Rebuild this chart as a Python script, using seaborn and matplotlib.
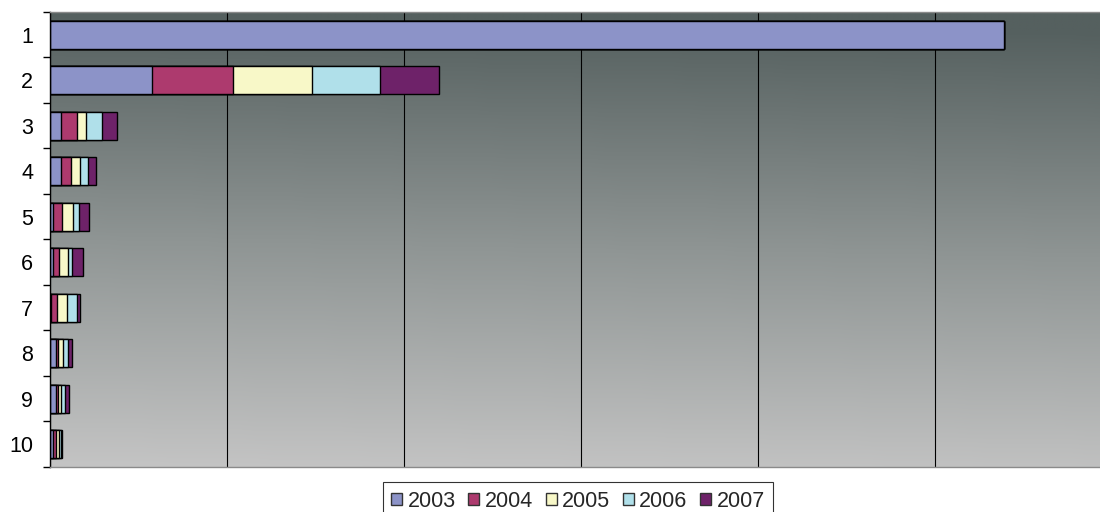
import numpy as np
import pandas as pd
import matplotlib
matplotlib.use("Agg")
import matplotlib.pyplot as plt
from matplotlib.colors import LinearSegmentedColormap
from matplotlib.patches import Patch
import seaborn as sns

# Data: ten ranked items, yearly amounts stacked horizontally
categories = ["1", "2", "3", "4", "5", "6", "7", "8", "9", "10"]
years = ["2003", "2004", "2005", "2006", "2007"]
v2003 = [539.0, 57.5, 6.0, 6.0, 1.9, 1.9, 0.5, 3.4, 3.2, 1.9]
v2004 = [0.0, 45.8, 9.0, 5.6, 4.9, 3.4, 3.6, 1.3, 1.5, 1.5]
v2005 = [0.0, 45.0, 5.6, 5.3, 6.4, 4.7, 5.3, 2.5, 1.5, 1.9]
v2006 = [0.0, 38.2, 8.5, 4.3, 3.2, 2.6, 5.6, 3.2, 2.3, 0.8]
v2007 = [0.0, 33.5, 8.5, 4.7, 5.6, 5.9, 1.9, 2.3, 2.3, 0.6]
colors = ["#8C93C8", "#AD3A6E", "#F8F8C8", "#B0E0EA", "#6E2269"]

series = [v2003, v2004, v2005, v2006, v2007]
df = pd.DataFrame({"item": categories})
cum = np.zeros(len(categories))
for y, vals in zip(years, series):
    cum = cum + np.array(vals)
    df[y] = cum.copy()

sns.set_theme(style="white")
plt.rcParams["font.family"] = ["Liberation Sans", "DejaVu Sans"]

fig = plt.figure(figsize=(11, 5.12), dpi=100)
ax = fig.add_axes([50 / 1100, 45 / 512, 1062 / 1100, 455 / 512])

# gradient plot background: dark slate at top fading to light gray
cmap = LinearSegmentedColormap.from_list("bg", ["#C4C4C4", "#8F9594", "#55605F"])
gy = np.linspace(0, 1, 256)[:, None]
gx = np.linspace(0, 1, 64)[None, :]
grad = np.clip(gy + 0.04 * gx, 0, 1)
ax.imshow(grad, cmap=cmap, origin="lower", aspect="auto", extent=[0, 1, 0, 1],
          transform=ax.transAxes, zorder=-5, interpolation="bilinear")

# stacked bars: draw cumulative totals from the longest down so segments show
for y, c in reversed(list(zip(years, colors))):
    sns.barplot(data=df, y="item", x=y, order=categories, orient="h",
                color=c, edgecolor="black", linewidth=1.0, width=0.62,
                saturation=1, ax=ax)

ax.set_xlim(0, 600)
ax.set_ylim(9.5, -0.5)
ax.set_xticks([0, 100, 200, 300, 400, 500, 600])
ax.set_xticklabels([])
ax.tick_params(axis="x", length=0)
ax.grid(axis="x", color="black", linewidth=0.8)
ax.grid(axis="y", visible=False)
ax.set_axisbelow(True)

ax.set_yticks(range(len(categories)))
ax.set_yticklabels(categories, fontsize=15.5, color="black")
ax.set_yticks(np.arange(-0.5, len(categories), 1), minor=True)
ax.tick_params(axis="y", which="major", length=0, pad=12)
ax.tick_params(axis="y", which="minor", length=5, width=1, color="black", direction="out", left=True)
ax.set_xlabel("")
ax.set_ylabel("")

for side in ["top", "bottom"]:
    ax.spines[side].set_color("#8A8A8A")
    ax.spines[side].set_linewidth(1)
ax.spines["right"].set_visible(False)
ax.spines["left"].set_color("black")
ax.spines["left"].set_linewidth(1)

handles = [Patch(facecolor=c, edgecolor="#333333", linewidth=1) for c in colors]
leg = fig.legend(handles, years, loc="upper center", bbox_to_anchor=(578 / 1100, 1 - 482 / 512),
                 ncol=5, frameon=True, fontsize=15.5, handlelength=0.5, handleheight=0.5,
                 handletextpad=0.25, columnspacing=0.6, borderpad=0.4, fancybox=False,
                 borderaxespad=0)
leg.get_frame().set_edgecolor("black")
leg.get_frame().set_linewidth(0.8)

fig.savefig("out.png", dpi=100, facecolor="white")
